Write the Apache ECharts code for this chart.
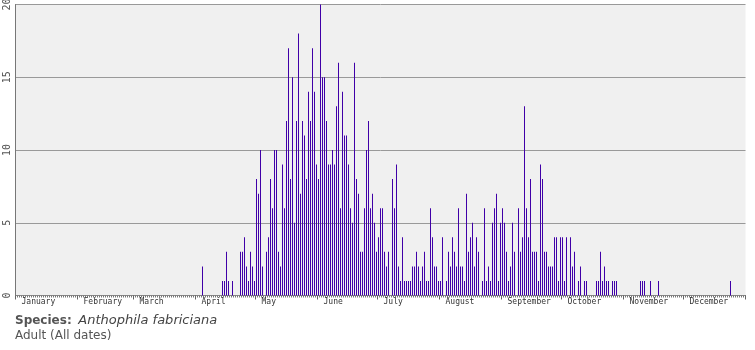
<!DOCTYPE html>
<html>
<head>
<meta charset="utf-8">
<script src="https://cdn.jsdelivr.net/npm/echarts@6/dist/echarts.min.js"></script>
<style>
  html, body { margin: 0; padding: 0; background: #fff; }
  #chart { width: 755px; height: 350px; }
</style>
</head>
<body>
<div id="chart"></div>
<script>
const MONTHS = ['January', 'February', 'March', 'April', 'May', 'June',
  'July', 'August', 'September', 'October', 'November', 'December']
const MONTH_DAYS = [31, 28, 31, 30, 31, 30, 31, 31, 30, 31, 30, 31]
const Y_TICKS = [0, 5, 10, 15, 20]

// records per day, starting at day-of-year index 93 (4 April)
const FIRST_DAY = 93
const COUNTS = [
  2, 0, 0, 0, 0, 0, 0, 0, 0, 0,
  1, 1, 3, 1, 0, 1, 0, 0, 0, 3,
  3, 4, 2, 1, 3, 2, 1, 8, 7, 10,
  2, 0, 3, 4, 8, 6, 10, 10, 3, 2,
  9, 6, 12, 17, 8, 15, 5, 12, 18, 7,
  12, 11, 8, 14, 12, 17, 14, 9, 8, 20,
  15, 15, 12, 9, 9, 10, 9, 13, 16, 6,
  14, 11, 11, 9, 6, 5, 16, 8, 7, 3,
  3, 6, 10, 12, 6, 7, 5, 3, 4, 6,
  6, 3, 2, 3, 0, 8, 6, 9, 2, 1,
  4, 1, 1, 1, 1, 2, 2, 3, 2, 1,
  2, 3, 1, 1, 6, 4, 2, 2, 1, 1,
  4, 0, 1, 3, 2, 4, 3, 2, 6, 2,
  2, 1, 7, 3, 4, 5, 2, 4, 3, 0,
  1, 6, 1, 2, 1, 5, 6, 7, 1, 5,
  6, 5, 3, 1, 2, 5, 3, 0, 6, 3,
  4, 13, 6, 4, 8, 3, 3, 3, 1, 9,
  8, 3, 3, 2, 2, 2, 4, 4, 1, 4,
  4, 1, 4, 0, 4, 2, 3, 0, 1, 2,
  0, 1, 1, 0, 0, 0, 0, 1, 1, 3,
  1, 2, 1, 1, 0, 1, 1, 1, 0, 0,
  0, 0, 0, 0, 0, 0, 0, 0, 0, 1,
  1, 1, 0, 0, 1, 0, 0, 0, 1, 0,
  0, 0, 0, 0, 0, 0, 0, 0, 0, 0,
  0, 0, 0, 0, 0, 0, 0, 0, 0, 0,
  0, 0, 0, 0, 0, 0, 0, 0, 0, 0,
  0, 0, 0, 0, 1
]

// day index -> month index for month starts
const monthStart = {}
let acc = 0
MONTH_DAYS.forEach((n, i) => { monthStart[acc] = i; acc += n })
const NDAYS = acc

const days = []
const values = []
for (let d = 0; d < NDAYS; d++) {
  days.push(d)
  const k = d - FIRST_DAY
  values.push(k >= 0 && k < COUNTS.length ? COUNTS[k] : 0)
}

const chart = echarts.init(document.getElementById('chart'))
chart.setOption({
  animation: false,
  backgroundColor: '#fff',
  grid: {
    left: 15.5, right: 9.5, top: 4.5, bottom: 54.5,
    outerBoundsMode: 'none',
    containLabel: false,
    show: true, backgroundColor: '#f0f0f0', borderWidth: 0
  },
  xAxis: [{
    type: 'category',
    data: days,
    axisLine: { lineStyle: { color: '#888', width: 1 } },
    axisTick: { show: true, interval: 0, length: 2, lineStyle: { color: '#777' } },
    axisLabel: {
      interval: (idx) => idx in monthStart,
      formatter: (v) => MONTHS[monthStart[v]],
      align: 'left',
      padding: [0, 0, 0, 5],
      margin: 2,
      fontFamily: 'DejaVu Sans Mono',
      fontSize: 8,
      color: '#333'
    },
    splitLine: { show: false }
  }, {
    type: 'category',
    data: days,
    position: 'bottom',
    axisLine: { show: false },
    axisTick: { show: true, interval: (idx) => idx in monthStart, length: 4, lineStyle: { color: '#666' } },
    axisLabel: { show: false }
  }],
  yAxis: {
    type: 'value',
    min: Y_TICKS[0],
    max: Y_TICKS[Y_TICKS.length - 1],
    interval: 5,
    axisLine: { show: true, lineStyle: { color: '#777' } },
    axisTick: { show: false },
    axisLabel: {
      rotate: 90,
      margin: 3,
      fontFamily: 'DejaVu Sans Mono',
      fontSize: 10,
      color: '#555'
    },
    splitLine: { show: true, lineStyle: { color: '#999', width: 1 } }
  },
  series: [{
    type: 'bar',
    data: values,
    barWidth: 1,
    itemStyle: { color: '#4000a8' }
  }],
  graphic: [
    {
      type: 'text', left: 15, top: 314,
      style: {
        text: '{b|Species:}  {i|Anthophila fabriciana}',
        rich: {
          b: { fontFamily: 'DejaVu Sans', fontWeight: 'bold', fontSize: 12, fill: '#555' },
          i: { fontFamily: 'DejaVu Sans', fontStyle: 'italic', fontSize: 13, fill: '#444' }
        }
      }
    },
    {
      type: 'text', left: 15, top: 330,
      style: { text: 'Adult (All dates)', fontFamily: 'DejaVu Sans', fontSize: 12, fill: '#555' }
    }
  ]
})
</script>
</body>
</html>
